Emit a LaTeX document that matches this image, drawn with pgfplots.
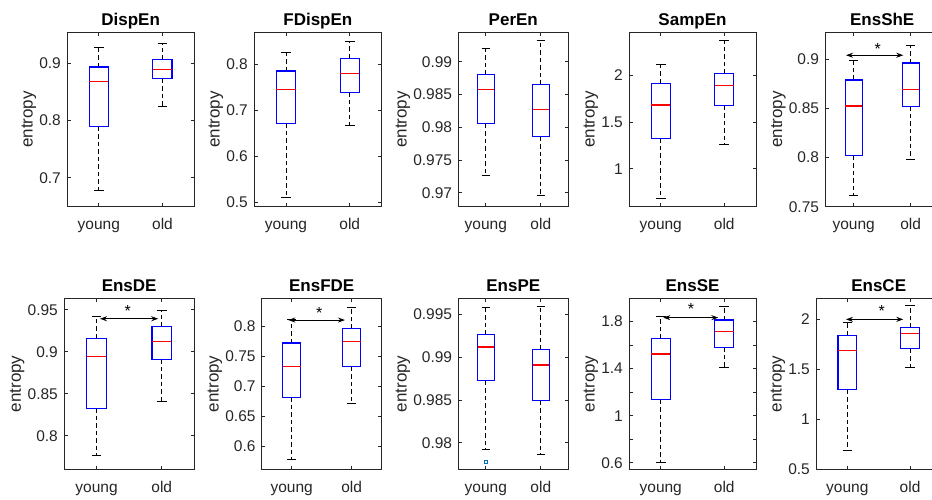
\documentclass[border=0pt]{standalone}
\usepackage{fontspec}
\setmainfont{Liberation Sans}
\usepackage{pgfplots}
\pgfplotsset{compat=1.18}
\usepgfplotslibrary{statistics}
\usetikzlibrary{arrows.meta}
\definecolor{axgray}{rgb}{0.15,0.15,0.15}
\definecolor{mblue}{rgb}{0,0.447,0.741}
\tikzset{sig/.style={black, line width=0.8pt, {Stealth[length=7pt,width=5pt]}-{Stealth[length=7pt,width=5pt]}}}
\pgfplotsset{
 boxplot/draw direction=y,
 boxplot/box extend=0.3,
 boxplot/whisker extend=0.15,
 boxplot/every box/.style={draw=blue, solid, line width=1.1pt},
 boxplot/every median/.style={draw=red, color=red, solid, line width=1.3pt},
 boxplot/draw/whisker/.code 2 args={
   \draw[black, line width=0.8pt, dash pattern=on 4.5pt off 3pt] (boxplot cs:#1) -- (boxplot cs:#2);
   \draw[black, line width=0.8pt] (boxplot whisker cs:#2,0) -- (boxplot whisker cs:#2,1);
 },
 ent/.style={
  scale only axis, anchor=south west,
  xmin=0.5, xmax=2.5, xtick={1,2}, xticklabels={young,old},
  axis line style={draw=axgray, line width=0.8pt},
  tick style={draw=axgray, line width=0.8pt},
  major tick length=3.5pt, tick align=inside,
  ticklabel style={font=\fontsize{15.5}{18}\selectfont, text=axgray},
  yticklabel style={anchor=east, inner sep=0pt, xshift=-6pt},
  xticklabel style={anchor=base, inner sep=0pt, yshift=-22.6pt},
  ylabel={entropy},
  ylabel style={font=\fontsize{17}{20}\selectfont, text=axgray, inner sep=3pt},
  every axis title shift=0pt,
  title style={font=\bfseries\fontsize{17}{20}\selectfont, anchor=base, at={(0.5,1)}, yshift=6.6pt, inner sep=0pt},
  clip=false,
  /pgf/number format/assume math mode=true,
 },
}
\newcommand{\sigstar}[2]{\node[anchor=base, yshift=-8.5pt, inner sep=0pt, font=\fontsize{16}{18}\selectfont] at (axis cs:#1,#2) {*};}
\begin{document}
\begin{tikzpicture}
\useasboundingbox (0,0) rectangle (932pt,500pt);
\clip (0,0) rectangle (932pt,500pt);
% ---------- top row ----------
\begin{axis}[ent, at={(67pt,293.3pt)}, width=127.3pt, height=174.4pt,
  ymin=0.6494, ymax=0.9536, ytick={0.7,0.8,0.9}, yticklabels={0.7,0.8,0.9}, title={DispEn}]
\addplot[blue, boxplot prepared={draw position=1, lower whisker=0.6773, lower quartile=0.789, median=0.8674, upper quartile=0.893, upper whisker=0.9267}] coordinates {};
\addplot[blue, boxplot prepared={draw position=2, lower whisker=0.824, lower quartile=0.8726, median=0.8883, upper quartile=0.9058, upper whisker=0.9337}] coordinates {};
\end{axis}
\begin{axis}[ent, at={(254pt,293.3pt)}, width=127.7pt, height=174.4pt,
  ymin=0.4898, ymax=0.869, ytick={0.5,0.6,0.7,0.8}, yticklabels={0.5,0.6,0.7,0.8}, title={FDispEn}]
\addplot[blue, boxplot prepared={draw position=1, lower whisker=0.5102, lower quartile=0.6709, median=0.7441, upper quartile=0.7848, upper whisker=0.8254}] coordinates {};
\addplot[blue, boxplot prepared={draw position=2, lower whisker=0.6659, lower quartile=0.7383, median=0.7789, upper quartile=0.8124, upper whisker=0.8485}] coordinates {};
\end{axis}
\begin{axis}[ent, at={(458.3pt,293.3pt)}, width=110pt, height=174.4pt,
  ymin=0.96786, ymax=0.99449, ytick={0.97,0.975,0.98,0.985,0.99}, yticklabels={0.97,0.975,0.98,0.985,0.99}, title={PerEn}]
\addplot[blue, boxplot prepared={draw position=1, lower whisker=0.9726, lower quartile=0.9805, median=0.98579, upper quartile=0.98802, upper whisker=0.99205}] coordinates {};
\addplot[blue, boxplot prepared={draw position=2, lower whisker=0.96965, lower quartile=0.97857, median=0.98265, upper quartile=0.98649, upper whisker=0.99327}] coordinates {};
\end{axis}
\begin{axis}[ent, at={(629pt,293.3pt)}, width=127pt, height=174.4pt,
  ymin=0.593, ymax=2.461, ytick={1,1.5,2}, yticklabels={1,1.5,2}, title={SampEn}]
\addplot[blue, boxplot prepared={draw position=1, lower whisker=0.678, lower quartile=1.325, median=1.682, upper quartile=1.917, upper whisker=2.118}] coordinates {};
\addplot[blue, boxplot prepared={draw position=2, lower whisker=1.261, lower quartile=1.675, median=1.893, upper quartile=2.017, upper whisker=2.375}] coordinates {};
\end{axis}
\begin{axis}[ent, at={(825.2pt,293.3pt)}, width=114pt, height=174.4pt,
  ymin=0.75, ymax=0.9271, ytick={0.75,0.8,0.85,0.9}, yticklabels={0.75,0.8,0.85,0.9}, title={EnsShE}]
\addplot[blue, boxplot prepared={draw position=1, lower whisker=0.7616, lower quartile=0.8017, median=0.8523, upper quartile=0.8787, upper whisker=0.899}] coordinates {};
\addplot[blue, boxplot prepared={draw position=2, lower whisker=0.798, lower quartile=0.852, median=0.8689, upper quartile=0.8959, upper whisker=0.9142}] coordinates {};
\draw[sig] (axis cs:0.865,0.9038) -- (axis cs:1.87,0.9038);
\sigstar{1.42}{0.9132}
\end{axis}
% ---------- bottom row ----------
\begin{axis}[ent, at={(64pt,30.5pt)}, width=130.3pt, height=171.2pt,
  ymin=0.76, ymax=0.9636, ytick={0.8,0.85,0.9,0.95}, yticklabels={0.8,0.85,0.9,0.95}, title={EnsDE}]
\addplot[blue, boxplot prepared={draw position=1, lower whisker=0.7762, lower quartile=0.833, median=0.8944, upper quartile=0.9158, upper whisker=0.9421}] coordinates {};
\addplot[blue, boxplot prepared={draw position=2, lower whisker=0.8405, lower quartile=0.8912, median=0.9123, upper quartile=0.9298, upper whisker=0.9488}] coordinates {};
\draw[sig] (axis cs:1.052,0.9393) -- (axis cs:1.946,0.9393);
\sigstar{1.477}{0.9517}
\end{axis}
\begin{axis}[ent, at={(261.7pt,30.5pt)}, width=120pt, height=171.2pt,
  ymin=0.5612, ymax=0.8462, ytick={0.6,0.65,0.7,0.75,0.8}, yticklabels={0.6,0.65,0.7,0.75,0.8}, title={EnsFDE}]
\addplot[blue, boxplot prepared={draw position=1, lower whisker=0.5783, lower quartile=0.6817, median=0.7328, upper quartile=0.7717, upper whisker=0.8111}] coordinates {};
\addplot[blue, boxplot prepared={draw position=2, lower whisker=0.6711, lower quartile=0.7322, median=0.7738, upper quartile=0.7955, upper whisker=0.8311}] coordinates {};
\draw[sig] (axis cs:0.943,0.81) -- (axis cs:1.888,0.81);
\sigstar{1.46}{0.8267}
\end{axis}
\begin{axis}[ent, at={(458.3pt,30.5pt)}, width=110pt, height=171.2pt,
  ymin=0.9769, ymax=0.99683, ytick={0.98,0.985,0.99,0.995}, yticklabels={0.98,0.985,0.99,0.995}, title={EnsPE}]
\addplot[blue, boxplot prepared={draw position=1, lower whisker=0.97923, lower quartile=0.98726, median=0.99117, upper quartile=0.99261, upper whisker=0.99578}] coordinates {};
\addplot[blue, boxplot prepared={draw position=2, lower whisker=0.9786, lower quartile=0.98488, median=0.98907, upper quartile=0.99086, upper whisker=0.99584}] coordinates {};
\addplot[only marks, mark=square, mark size=1.5pt, draw=mblue, line width=0.7pt] coordinates {(1,0.97779)};
\end{axis}
\begin{axis}[ent, at={(629pt,30.5pt)}, width=127pt, height=171.2pt,
  ymin=0.544, ymax=1.995, ytick={0.6,0.8,1,1.2,1.4,1.6,1.8}, yticklabels={0.6,,1,,1.4,,1.8}, title={EnsSE}]
\addplot[blue, boxplot prepared={draw position=1, lower whisker=0.608, lower quartile=1.137, median=1.522, upper quartile=1.652, upper whisker=1.839}] coordinates {};
\addplot[blue, boxplot prepared={draw position=2, lower whisker=1.408, lower quartile=1.579, median=1.712, upper quartile=1.811, upper whisker=1.930}] coordinates {};
\draw[sig] (axis cs:1.04,1.831) -- (axis cs:1.906,1.831);
\sigstar{1.476}{1.93}
\end{axis}
\begin{axis}[ent, at={(816pt,30.5pt)}, width=125.4pt, height=171.2pt,
  ymin=0.5, ymax=2.207, ytick={0.5,1,1.5,2}, yticklabels={0.5,1,1.5,2}, title={EnsCE}]
\addplot[blue, boxplot prepared={draw position=1, lower whisker=0.687, lower quartile=1.296, median=1.686, upper quartile=1.840, upper whisker=1.963}] coordinates {};
\addplot[blue, boxplot prepared={draw position=2, lower whisker=1.516, lower quartile=1.704, median=1.853, upper quartile=1.913, upper whisker=2.133}] coordinates {};
\draw[sig] (axis cs:0.978,1.997) -- (axis cs:1.892,1.997);
\sigstar{1.548}{2.107}
\end{axis}
\end{tikzpicture}
\end{document}
